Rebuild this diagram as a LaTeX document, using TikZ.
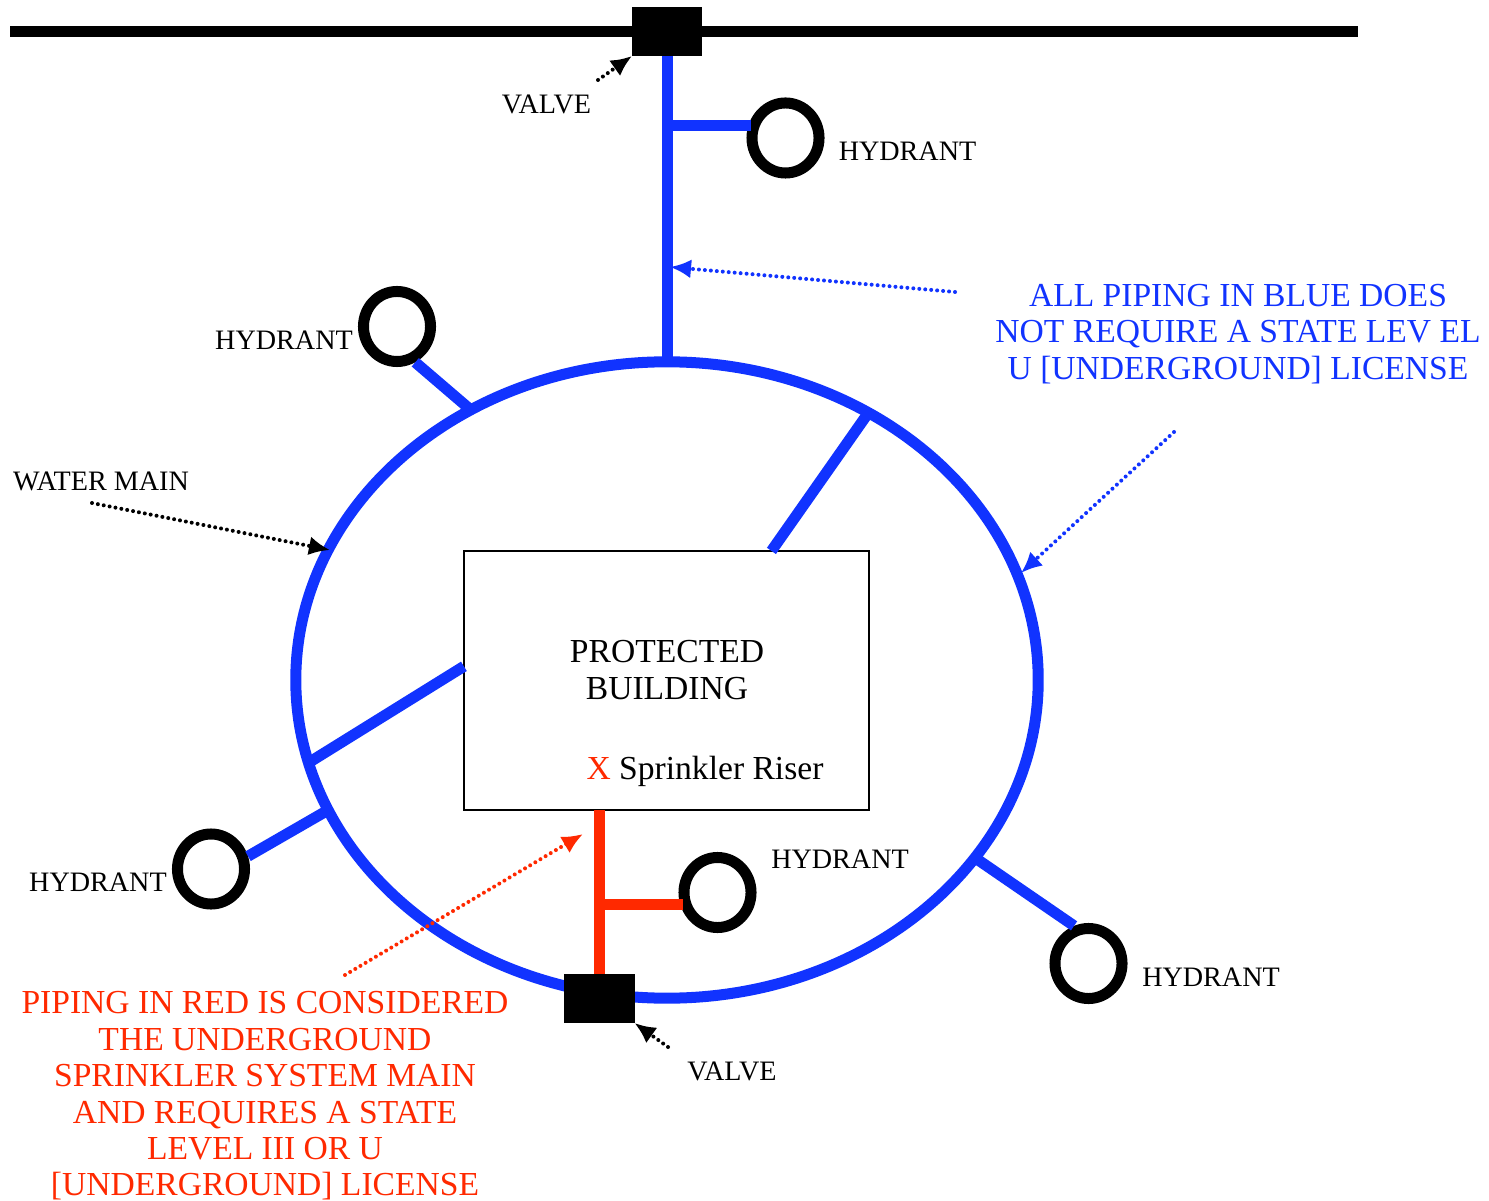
\documentclass[tikz,border=0pt]{standalone}
\usepackage{fontspec}
\setmainfont{Liberation Serif}
\usetikzlibrary{arrows.meta,shapes.geometric}

\definecolor{pipeblue}{RGB}{17,51,255}
\definecolor{pipered}{RGB}{255,41,0}

\tikzset{
	main/.style={draw=pipeblue, ellipse, line width=.11cm, outer sep=0pt, minimum width=7.42cm, minimum height=6.36cm},
	hydrant/.style={draw, ellipse, line width=.11cm, inner sep=0pt, minimum width=.67cm, minimum height=.70cm},
	valve/.style={fill=black, draw=none, outer sep=0pt, minimum width=.70cm, minimum height=.49cm},
	building/.style={draw, line width=.02cm, outer sep=0pt, minimum width=4.05cm, minimum height=2.59cm},
	bluepipe/.style={draw=pipeblue, line width=.11cm},
	redpipe/.style={draw=pipered, line width=.11cm},
	note/.style={->, line width=.04cm, line cap=round, dash pattern=on 0pt off 1.7pt},
	small/.style={font=\fontsize{8}{9.5}\selectfont, inner sep=0pt},
	big/.style={font=\fontsize{9.55}{10.35}\selectfont, inner sep=0pt, align=center}
}

\begin{document}
\begin{tikzpicture}[>={Latex[length=.21cm,width=.19cm]}, x=.01cm, y=-.01cm]

\useasboundingbox (0,0) rectangle (1489,1201);

% the street main
\coordinate (streetw) at (10,32);
\coordinate (streete) at (1358,32);
\draw[line width=.11cm] (streetw)--(streete);

\node[main] (ring) at (667,680) {};
\node[building] (prot) at (666.5,680.5) {};
\node[valve] (valvetop) at (667,31.5) {};
\node[valve] (valvelow) at (599.5,998.5) {};

\foreach \name/\px/\py in {hydn/785.5/138, hydnw/397/326.5, hydsw/211/869, hydin/717.5/892.5, hydse/1088.5/963.5}
{
	\node[hydrant] (\name) at (\px,\py) {};
}

% blue piping
\coordinate (teetop) at (667,126);
\draw[bluepipe] (valvetop.south)--(ring.north);
\draw[bluepipe] (teetop)--([xshift=.03cm]teetop -| hydn.162);
\draw[bluepipe] (hydnw.-63)--(ring.126.5);
\draw[bluepipe] (hydsw.19)--(ring.201.2);
\draw[bluepipe] (hydse.111)--(ring.-30.3);
\draw[bluepipe] (prot.176.5)--(ring.193.5);
\draw[bluepipe] (prot.51.9)--(ring.53.4);

% red piping
\coordinate (teelow) at (599.5,904);
\draw[redpipe] (valvelow.north)--(valvelow.north |- prot.south);
\draw[redpipe] (teelow)--([xshift=.03cm]teelow -| hydin.163);

% dotted arrows
\coordinate (fromvalvetop) at (598,80);
\coordinate (fromvalvelow) at (668,1047);
\coordinate (fromwater) at (92,503);
\coordinate (towater) at (330,550);
\coordinate (fromblueone) at (955,292);
\coordinate (toblueone) at (670,267);
\coordinate (frombluetwo) at (1174,432);
\coordinate (tobluetwo) at (1021,573);
\coordinate (fromred) at (345,975);
\coordinate (tored) at (583,834);

\draw[note] (fromvalvetop)--(valvetop.south west);
\draw[note] (fromvalvelow)--(valvelow.south east);
\draw[note] (fromwater)--(towater);
\draw[note, pipeblue] (fromblueone)--(toblueone);
\draw[note, pipeblue] (frombluetwo)--(tobluetwo);
\draw[note, pipered] (fromred)--(tored);

% labels
\node[small] (lblvalvetop) at (546.5,104) {VALVE};
\node[small] (lblvalvelow) at (732,1071) {VALVE};
\node[small] (lbln) at (907.5,151) {HYDRANT};
\node[small] (lblnw) at (284,340) {HYDRANT};
\node[small] (lblsw) at (98,882) {HYDRANT};
\node[small] (lblin) at (840,859) {HYDRANT};
\node[small] (lblse) at (1211,977) {HYDRANT};
\node[small] (lblwater) at (101,481) {WATER MAIN};

\node[big] (lblprot) at (667,670) {PROTECTED\\BUILDING};
\node[big] (lblriser) at (705,771) {\textcolor{pipered}{X} Sprinkler Riser};
\node[big, text=pipeblue] (lblblue) at (1238,334) {ALL PIPING IN BLUE DOES\\NOT REQUIRE A STATE LEV EL\\U [UNDERGROUND] LICENSE};
\node[big, text=pipered] (lblred) at (265,1096) {PIPING IN RED IS CONSIDERED\\THE UNDERGROUND\\SPRINKLER SYSTEM MAIN\\AND REQUIRES A STATE\\LEVEL III OR U\\{[}UNDERGROUND] LICENSE};

\end{tikzpicture}
\end{document}
